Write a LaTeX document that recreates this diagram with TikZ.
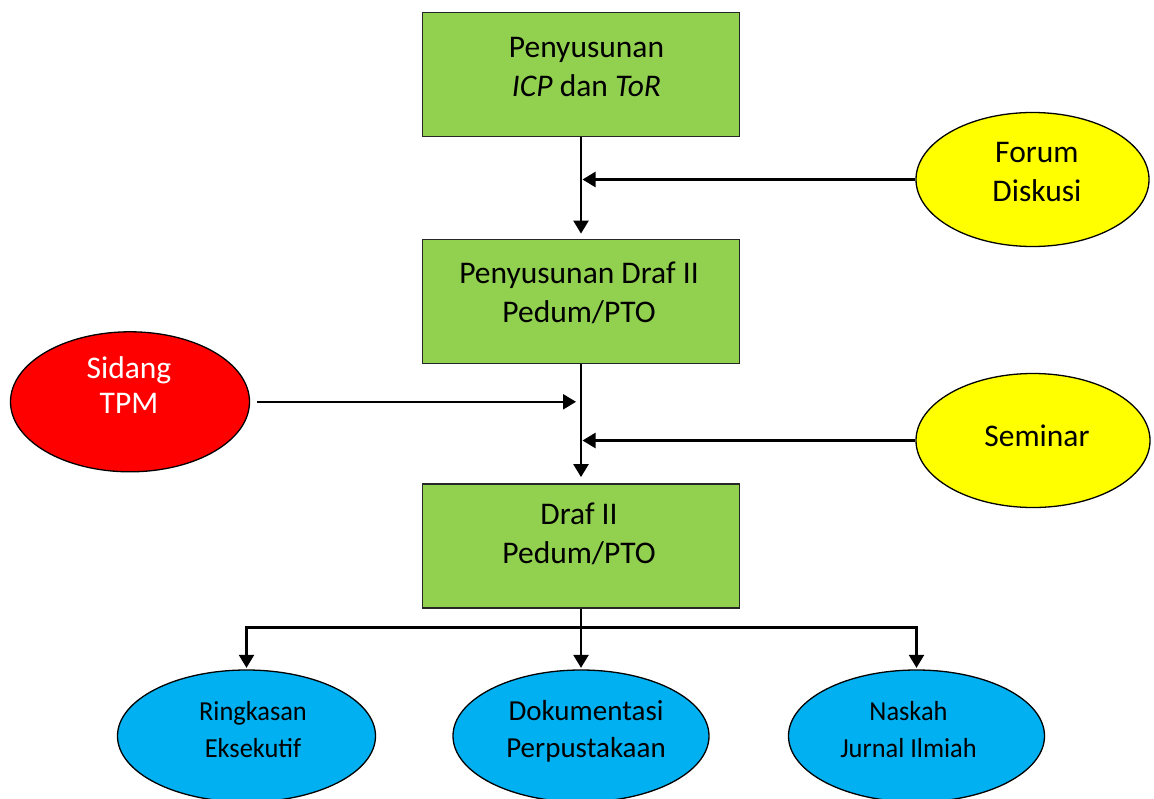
\documentclass[tikz,border=0pt]{standalone}
\usepackage{fontspec}
\setmainfont{Carlito}
\newfontfamily\condfont[FakeStretch=0.96]{Carlito}
\usetikzlibrary{arrows.meta,shapes.geometric}
\definecolor{boxgreen}{HTML}{92D050}
\definecolor{ovyellow}{HTML}{FFFF00}
\definecolor{ovred}{HTML}{FF0000}
\definecolor{ovblue}{HTML}{00B0F0}
% shift visible text by (#1 right, #2 up) keeping the box size
\newcommand{\nudge}[3]{\raisebox{#2}[\height][\depth]{\hspace*{#1}#3\hspace*{-#1}}}
\newcommand{\lines}[1]{\begin{tabular}{@{}c@{}}#1\end{tabular}}
\tikzset{
  stepbox/.style={draw=black!85, line width=1.8pt, fill=boxgreen,
    minimum width=317pt, minimum height=124pt, inner sep=0pt,
    font=\fontsize{31.5}{39}\selectfont},
  oval/.style={ellipse, draw=black, line width=1.3pt, inner sep=0pt,
    font=\fontsize{31.5}{39}\selectfont},
  conn/.style={line width=2.4pt, -{Triangle[width=15pt,length=13pt]}},
}
\begin{document}
\begin{tikzpicture}[x=1pt,y=-1pt]
\useasboundingbox (0,0) rectangle (1154,798);
% boxes
\node[stepbox] (b1) at (581,74.5) {\nudge{5.5pt}{5.3pt}{\lines{Penyusunan\\ \textit{ICP} dan \textit{ToR}}}};
\node[stepbox] (b2) at (581,301.5) {\nudge{-2pt}{6.5pt}{\lines{Penyusunan Draf II\\ Pedum/PTO}}};
\node[stepbox] (b3) at (581,546) {\nudge{-2pt}{10.2pt}{\lines{Draf II\\ Pedum/PTO}}};
% side ellipses
\node[oval, fill=ovyellow, minimum width=233pt, minimum height=134pt] (forum) at (1032.5,179.5)
  {\nudge{4.4pt}{5.1pt}{\lines{Forum\\ Diskusi}}};
\node[oval, fill=ovred, text=white, minimum width=239pt, minimum height=140pt,
  font=\fontsize{31.5}{35}\selectfont] (sidang) at (130,401.8)
  {\nudge{-1pt}{13pt}{\lines{Sidang\\ TPM}}};
\node[oval, fill=ovyellow, minimum width=234pt, minimum height=134pt] (seminar) at (1033,440.5)
  {\nudge{4pt}{2.3pt}{\lines{Seminar}}};
% bottom ellipses
\node[oval, fill=ovblue, minimum width=258pt, minimum height=132pt,
  font=\condfont\fontsize{27.5}{37}\selectfont] (e1) at (246.5,736)
  {\nudge{6.5pt}{4.9pt}{\lines{Ringkasan\\ Eksekutif}}};
\node[oval, fill=ovblue, minimum width=256pt, minimum height=132pt,
  font=\fontsize{29}{37}\selectfont] (e2) at (581,736)
  {\nudge{5pt}{4.9pt}{\lines{Dokumentasi\\ Perpustakaan}}};
\node[oval, fill=ovblue, minimum width=256pt, minimum height=132pt,
  font=\condfont\fontsize{27.5}{37}\selectfont] (e3) at (916.5,736)
  {\nudge{-8pt}{4.9pt}{\lines{Naskah\\ Jurnal Ilmiah}}};
% connectors
\draw[conn, shorten >=5pt] (b1.south) -- (b2.north);
\draw[conn, shorten >=1.5pt] (forum.west) -- (forum.west -| b1.south);
\draw[conn, shorten >=6pt] (b2.south) -- (b3.north);
\draw[conn, shorten <=7pt, shorten >=5pt] (sidang.east) -- (sidang.east -| b2.south);
\draw[conn, shorten >=1.5pt] (seminar.west) -- (seminar.west -| b2.south);
\coordinate (jn) at (581,627.3);
\draw[conn, shorten >=1.5pt] (b3.south) -- (e2.north);
\draw[conn, shorten >=1.5pt] (jn) -| (e1.north);
\draw[conn, shorten >=1.5pt] (jn) -| (e3.north);
\end{tikzpicture}
\end{document}
